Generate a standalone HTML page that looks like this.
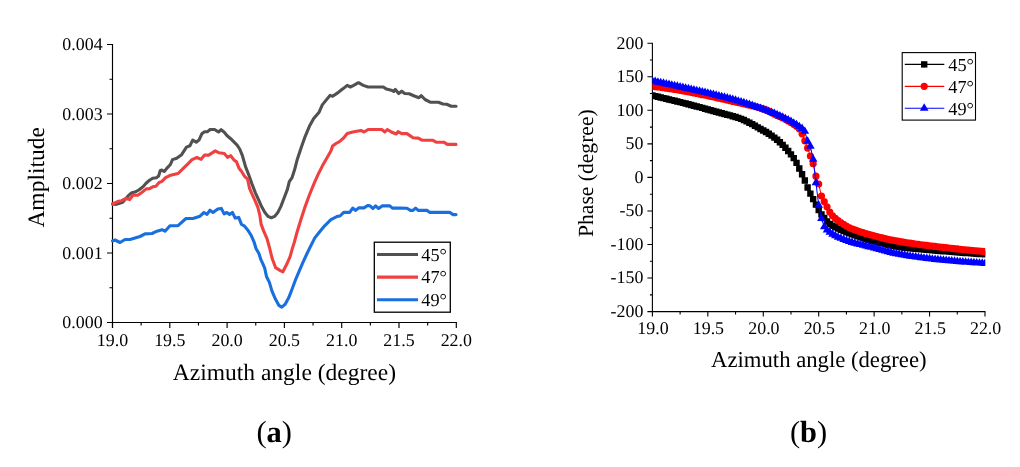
<!DOCTYPE html>
<html><head><meta charset="utf-8"><title>Amplitude and phase vs azimuth angle</title>
<style>
html,body{margin:0;padding:0;background:#fff;}
body{width:1020px;height:467px;overflow:hidden;}
svg{display:block;font-family:"Liberation Serif",serif;text-rendering:geometricPrecision;will-change:transform;}
</style></head>
<body>
<svg width="1020" height="467" viewBox="0 0 1020 467">
<g stroke="#000" stroke-width="1.15" fill="none">
<path d="M112.5,43.9V328.0M107.0,322.5H456.90000000000003"/>
<path d="M107.0,322.50H112.5M107.0,253.00H112.5M107.0,183.50H112.5M107.0,114.00H112.5M107.0,44.50H112.5M109.5,287.75H112.5M109.5,218.25H112.5M109.5,148.75H112.5M109.5,79.25H112.5M112.50,322.5V328.0M169.80,322.5V328.0M227.10,322.5V328.0M284.40,322.5V328.0M341.70,322.5V328.0M399.00,322.5V328.0M456.30,322.5V328.0M141.15,322.5V325.5M198.45,322.5V325.5M255.75,322.5V325.5M313.05,322.5V325.5M370.35,322.5V325.5M427.65,322.5V325.5"/></g>
<g fill="none" stroke-width="3.1" stroke-linejoin="round" stroke-linecap="round">
<path stroke="#515151" d="M112.5,204.0 116.3,204.4 122.7,202.3 128.1,195.9 131.8,192.7 135.0,192.1 138.8,190.0 143.0,186.8 146.3,183.0 149.5,180.3 152.7,178.2 156.4,177.7 158.6,176.1 160.2,170.7 161.4,170.0 164.2,171.4 167.7,167.3 170.4,164.5 172.5,159.6 176.7,158.2 181.6,154.7 186.5,147.1 189.9,145.7 192.7,140.1 196.2,142.2 199.0,140.1 201.8,133.8 204.6,131.7 207.6,131.6 210.1,129.5 214.6,129.5 218.5,132.0 221.1,129.7 224.3,132.3 226.9,135.5 230.7,138.7 233.9,141.9 237.1,145.1 239.7,149.0 242.3,155.4 245.6,166.9 248.9,175.3 252.1,184.3 255.3,192.6 258.5,199.7 261.7,206.8 264.9,212.6 268.1,216.4 271.3,217.7 274.6,216.4 277.8,212.6 281.0,206.1 284.2,197.8 287.4,189.4 289.3,181.7 291.9,177.9 294.5,170.1 297.4,158.9 300.9,148.6 305.1,136.6 309.4,126.3 313.7,118.6 318.9,112.6 322.3,104.9 325.7,100.6 330.0,95.4 332.6,96.3 337.7,92.9 340.0,91.0 343.2,88.6 347.2,85.4 350.4,87.0 353.6,85.4 358.5,82.7 363.3,85.4 368.1,87.0 383.3,87.0 386.5,89.1 391.3,90.2 393.7,91.5 395.3,89.4 398.7,93.5 401.7,91.2 404.7,93.5 409.2,93.8 413.7,95.7 419.0,97.7 421.2,95.7 425.0,99.5 430.2,102.2 438.4,102.2 442.9,104.0 446.7,104.3 451.2,106.2 456.0,106.2"/>
<path stroke="#F14040" d="M112.5,203.9 115.2,202.8 118.4,201.2 121.6,200.7 125.9,198.5 129.7,199.6 132.9,195.3 137.7,195.3 141.4,192.7 146.3,188.9 149.5,188.7 152.7,186.8 155.9,186.2 159.1,182.5 162.0,181.4 165.6,177.7 169.7,175.6 174.6,174.2 178.1,173.5 183.0,168.7 187.9,163.8 192.0,159.6 196.9,157.5 201.1,159.3 204.6,155.1 208.7,155.1 215.3,150.9 219.1,152.8 224.3,153.5 227.5,157.3 230.7,155.7 233.9,159.9 236.5,161.8 239.1,168.3 241.6,171.5 244.8,176.6 247.6,179.1 249.5,188.1 251.4,192.6 254.6,199.7 257.9,207.4 259.8,215.1 261.1,224.1 263.6,230.9 267.0,238.6 269.6,248.0 272.1,258.3 275.6,267.7 279.9,270.3 282.9,271.8 286.7,264.3 290.1,256.6 292.3,248.6 294.4,242.0 296.8,233.0 300.6,220.5 304.5,208.4 309.4,195.0 313.7,184.3 318.0,174.6 322.3,166.1 326.6,158.6 330.9,151.1 332.6,146.0 336.0,143.5 339.4,141.7 343.2,138.4 347.2,133.6 352.8,132.0 360.9,130.4 364.1,132.0 368.1,129.5 381.7,129.5 384.9,132.0 387.3,129.5 391.3,132.0 396.2,134.0 398.0,131.7 401.7,133.6 407.0,133.6 413.0,137.7 418.2,138.1 422.0,140.2 432.4,140.2 436.2,142.2 443.7,142.2 447.4,144.4 456.0,144.4"/>
<path stroke="#1A6FDF" d="M112.5,241.0 115.0,240.0 120.0,242.5 125.0,239.5 130.0,239.5 135.0,238.0 140.0,236.5 145.0,233.9 152.0,233.5 157.0,231.2 162.0,229.7 165.0,231.2 170.0,225.7 178.0,225.7 186.0,218.5 193.0,218.5 200.0,216.2 204.0,212.5 207.0,214.4 210.0,210.2 213.0,212.5 217.8,209.1 221.3,208.4 224.1,213.9 226.8,212.5 229.6,214.6 232.4,212.5 235.2,218.1 238.7,217.4 241.5,224.4 244.2,225.8 247.7,229.9 251.2,235.5 254.0,241.8 256.1,248.7 258.9,253.6 261.0,259.9 263.0,264.1 264.7,268.2 266.5,276.5 269.4,282.4 271.8,290.6 275.3,298.8 278.8,305.3 281.8,307.1 285.3,304.1 288.8,297.6 292.4,288.2 295.9,278.8 299.4,270.6 303.5,261.2 306.8,254.0 309.4,248.6 314.8,237.9 319.1,232.5 324.4,226.1 330.9,219.6 337.3,216.4 340.0,216.0 343.7,212.4 349.7,212.4 352.7,208.1 355.7,210.4 358.7,207.9 364.0,207.9 367.7,205.5 370.0,205.9 373.0,208.5 375.6,205.9 378.6,208.5 382.0,205.9 389.8,205.9 392.4,208.1 400.0,208.1 407.0,208.3 410.4,210.4 413.0,210.4 415.6,208.1 418.2,210.4 427.2,210.4 429.9,212.4 449.7,212.4 453.1,214.6 456.0,214.6"/>
</g>
<g font-size="17.9" fill="#000">
<text x="102.6" y="328.4" text-anchor="end">0.000</text>
<text x="102.6" y="258.9" text-anchor="end">0.001</text>
<text x="102.6" y="189.4" text-anchor="end">0.002</text>
<text x="102.6" y="119.9" text-anchor="end">0.003</text>
<text x="102.6" y="50.4" text-anchor="end">0.004</text>
<text x="112.5" y="346" text-anchor="middle">19.0</text>
<text x="169.8" y="346" text-anchor="middle">19.5</text>
<text x="227.1" y="346" text-anchor="middle">20.0</text>
<text x="284.4" y="346" text-anchor="middle">20.5</text>
<text x="341.7" y="346" text-anchor="middle">21.0</text>
<text x="399.0" y="346" text-anchor="middle">21.5</text>
<text x="456.3" y="346" text-anchor="middle">22.0</text>
</g>
<text font-size="23.5" x="284.4" y="379.7" text-anchor="middle">Azimuth angle (degree)</text>
<text font-size="23.5" transform="translate(43.8,227.6) rotate(-90)">Amplitude</text>
<rect x="374.3" y="242.2" width="76" height="70" fill="#fff" stroke="#000" stroke-width="1.3"/>
<path d="M377,254.5H418" stroke="#515151" stroke-width="3.1"/>
<text font-size="18.3" x="421.3" y="260.6">45°</text>
<path d="M377,277.1H418" stroke="#F14040" stroke-width="3.1"/>
<text font-size="18.3" x="421.3" y="283.2">47°</text>
<path d="M377,299.7H418" stroke="#1A6FDF" stroke-width="3.1"/>
<text font-size="18.3" x="421.3" y="305.8">49°</text>
<g stroke="#000" stroke-width="1.1" fill="none">
<path d="M652.4,42.7V316.6M647.4,311.6H985.5M647.4,43.20H652.4M647.4,76.75H652.4M647.4,110.30H652.4M647.4,143.85H652.4M647.4,177.40H652.4M647.4,210.95H652.4M647.4,244.50H652.4M647.4,278.05H652.4M647.4,311.60H652.4M649.9,59.98H652.4M649.9,93.53H652.4M649.9,127.08H652.4M649.9,160.62H652.4M649.9,194.18H652.4M649.9,227.73H652.4M649.9,261.28H652.4M649.9,294.83H652.4M652.40,311.6V316.6M707.83,311.6V316.6M763.27,311.6V316.6M818.70,311.6V316.6M874.13,311.6V316.6M929.57,311.6V316.6M985.00,311.6V316.6M680.12,311.6V314.6M735.55,311.6V314.6M790.98,311.6V314.6M846.42,311.6V314.6M901.85,311.6V314.6M957.28,311.6V314.6"/></g>
<clipPath id="rc"><rect x="652.4" y="0" width="332.90" height="467"/></clipPath>
<g clip-path="url(#rc)">
<path d="M652.40,95.50 655.17,96.14 657.94,96.79 660.71,97.44 663.49,98.10 666.26,98.77 669.03,99.44 671.80,100.11 674.57,100.79 677.35,101.48 680.12,102.17 682.89,102.87 685.66,103.57 688.43,104.27 691.20,104.98 693.98,105.70 696.75,106.43 699.52,107.17 702.29,107.92 705.06,108.69 707.83,109.47 710.60,110.26 713.38,111.04 716.15,111.82 718.92,112.56 721.69,113.27 724.46,113.98 727.24,114.69 730.01,115.42 732.78,116.20 735.55,117.02 738.32,117.92 741.09,118.91 743.86,120.06 746.64,121.34 749.41,122.70 752.18,124.15 754.95,125.73 757.72,127.37 760.50,128.98 763.27,130.53 766.04,132.07 768.81,133.73 771.58,135.58 774.35,137.61 777.12,139.81 779.90,142.21 782.67,144.85 785.44,147.78 788.21,150.95 790.98,154.33 793.75,158.15 796.53,162.87 799.30,168.47 802.07,174.24 804.84,180.45 807.61,187.55 810.39,193.63 813.16,199.12 815.93,204.65 818.70,210.03 821.47,214.34 824.24,218.06 827.01,221.43 829.79,223.94 832.56,225.77 835.33,227.28 838.10,228.61 840.87,229.90 843.65,231.11 846.42,232.23 849.19,233.29 851.96,234.33 854.73,235.36 857.50,236.37 860.27,237.35 863.05,238.29 865.82,239.18 868.59,240.01 871.36,240.77 874.13,241.52 876.90,242.25 879.68,242.97 882.45,243.66 885.22,244.32 887.99,244.94 890.76,245.52 893.54,246.06 896.31,246.54 899.08,246.97 901.85,247.35 904.62,247.69 907.39,248.02 910.16,248.32 912.94,248.60 915.71,248.87 918.48,249.12 921.25,249.37 924.02,249.60 926.80,249.83 929.57,250.05 932.34,250.27 935.11,250.50 937.88,250.72 940.65,250.96 943.42,251.19 946.20,251.42 948.97,251.64 951.74,251.87 954.51,252.09 957.28,252.31 960.05,252.52 962.83,252.73 965.60,252.94 968.37,253.15 971.14,253.35 973.91,253.55 976.69,253.74 979.46,253.93 982.23,254.12 985.00,254.30" stroke="#000" stroke-width="1" fill="none"/>
<path d="M649.20,92.30h6.4v6.4h-6.4zM651.97,92.94h6.4v6.4h-6.4zM654.74,93.59h6.4v6.4h-6.4zM657.51,94.24h6.4v6.4h-6.4zM660.29,94.90h6.4v6.4h-6.4zM663.06,95.57h6.4v6.4h-6.4zM665.83,96.24h6.4v6.4h-6.4zM668.60,96.91h6.4v6.4h-6.4zM671.37,97.59h6.4v6.4h-6.4zM674.15,98.28h6.4v6.4h-6.4zM676.92,98.97h6.4v6.4h-6.4zM679.69,99.67h6.4v6.4h-6.4zM682.46,100.37h6.4v6.4h-6.4zM685.23,101.07h6.4v6.4h-6.4zM688.00,101.78h6.4v6.4h-6.4zM690.77,102.50h6.4v6.4h-6.4zM693.55,103.23h6.4v6.4h-6.4zM696.32,103.97h6.4v6.4h-6.4zM699.09,104.72h6.4v6.4h-6.4zM701.86,105.49h6.4v6.4h-6.4zM704.63,106.27h6.4v6.4h-6.4zM707.40,107.06h6.4v6.4h-6.4zM710.18,107.84h6.4v6.4h-6.4zM712.95,108.62h6.4v6.4h-6.4zM715.72,109.36h6.4v6.4h-6.4zM718.49,110.07h6.4v6.4h-6.4zM721.26,110.78h6.4v6.4h-6.4zM724.03,111.49h6.4v6.4h-6.4zM726.81,112.22h6.4v6.4h-6.4zM729.58,113.00h6.4v6.4h-6.4zM732.35,113.82h6.4v6.4h-6.4zM735.12,114.72h6.4v6.4h-6.4zM737.89,115.71h6.4v6.4h-6.4zM740.66,116.86h6.4v6.4h-6.4zM743.44,118.14h6.4v6.4h-6.4zM746.21,119.50h6.4v6.4h-6.4zM748.98,120.95h6.4v6.4h-6.4zM751.75,122.53h6.4v6.4h-6.4zM754.52,124.17h6.4v6.4h-6.4zM757.30,125.78h6.4v6.4h-6.4zM760.07,127.33h6.4v6.4h-6.4zM762.84,128.87h6.4v6.4h-6.4zM765.61,130.53h6.4v6.4h-6.4zM768.38,132.38h6.4v6.4h-6.4zM771.15,134.41h6.4v6.4h-6.4zM773.92,136.61h6.4v6.4h-6.4zM776.70,139.01h6.4v6.4h-6.4zM779.47,141.65h6.4v6.4h-6.4zM782.24,144.58h6.4v6.4h-6.4zM785.01,147.75h6.4v6.4h-6.4zM787.78,151.13h6.4v6.4h-6.4zM790.55,154.95h6.4v6.4h-6.4zM793.33,159.67h6.4v6.4h-6.4zM796.10,165.27h6.4v6.4h-6.4zM798.87,171.04h6.4v6.4h-6.4zM801.64,177.25h6.4v6.4h-6.4zM804.41,184.35h6.4v6.4h-6.4zM807.19,190.43h6.4v6.4h-6.4zM809.96,195.92h6.4v6.4h-6.4zM812.73,201.45h6.4v6.4h-6.4zM815.50,206.83h6.4v6.4h-6.4zM818.27,211.14h6.4v6.4h-6.4zM821.04,214.86h6.4v6.4h-6.4zM823.81,218.23h6.4v6.4h-6.4zM826.59,220.74h6.4v6.4h-6.4zM829.36,222.57h6.4v6.4h-6.4zM832.13,224.08h6.4v6.4h-6.4zM834.90,225.41h6.4v6.4h-6.4zM837.67,226.70h6.4v6.4h-6.4zM840.45,227.91h6.4v6.4h-6.4zM843.22,229.03h6.4v6.4h-6.4zM845.99,230.09h6.4v6.4h-6.4zM848.76,231.13h6.4v6.4h-6.4zM851.53,232.16h6.4v6.4h-6.4zM854.30,233.17h6.4v6.4h-6.4zM857.07,234.15h6.4v6.4h-6.4zM859.85,235.09h6.4v6.4h-6.4zM862.62,235.98h6.4v6.4h-6.4zM865.39,236.81h6.4v6.4h-6.4zM868.16,237.57h6.4v6.4h-6.4zM870.93,238.32h6.4v6.4h-6.4zM873.70,239.05h6.4v6.4h-6.4zM876.48,239.77h6.4v6.4h-6.4zM879.25,240.46h6.4v6.4h-6.4zM882.02,241.12h6.4v6.4h-6.4zM884.79,241.74h6.4v6.4h-6.4zM887.56,242.32h6.4v6.4h-6.4zM890.34,242.86h6.4v6.4h-6.4zM893.11,243.34h6.4v6.4h-6.4zM895.88,243.77h6.4v6.4h-6.4zM898.65,244.15h6.4v6.4h-6.4zM901.42,244.49h6.4v6.4h-6.4zM904.19,244.82h6.4v6.4h-6.4zM906.96,245.12h6.4v6.4h-6.4zM909.74,245.40h6.4v6.4h-6.4zM912.51,245.67h6.4v6.4h-6.4zM915.28,245.92h6.4v6.4h-6.4zM918.05,246.17h6.4v6.4h-6.4zM920.82,246.40h6.4v6.4h-6.4zM923.60,246.63h6.4v6.4h-6.4zM926.37,246.85h6.4v6.4h-6.4zM929.14,247.07h6.4v6.4h-6.4zM931.91,247.30h6.4v6.4h-6.4zM934.68,247.52h6.4v6.4h-6.4zM937.45,247.76h6.4v6.4h-6.4zM940.22,247.99h6.4v6.4h-6.4zM943.00,248.22h6.4v6.4h-6.4zM945.77,248.44h6.4v6.4h-6.4zM948.54,248.67h6.4v6.4h-6.4zM951.31,248.89h6.4v6.4h-6.4zM954.08,249.11h6.4v6.4h-6.4zM956.85,249.32h6.4v6.4h-6.4zM959.63,249.53h6.4v6.4h-6.4zM962.40,249.74h6.4v6.4h-6.4zM965.17,249.95h6.4v6.4h-6.4zM967.94,250.15h6.4v6.4h-6.4zM970.71,250.35h6.4v6.4h-6.4zM973.49,250.54h6.4v6.4h-6.4zM976.26,250.73h6.4v6.4h-6.4zM979.03,250.92h6.4v6.4h-6.4zM981.80,251.10h6.4v6.4h-6.4z" fill="#000"/>
<path d="M652.40,86.30 655.17,86.64 657.94,86.99 660.71,87.36 663.49,87.74 666.26,88.14 669.03,88.55 671.80,88.97 674.57,89.41 677.35,89.86 680.12,90.32 682.89,90.80 685.66,91.30 688.43,91.82 691.20,92.37 693.98,92.92 696.75,93.49 699.52,94.07 702.29,94.66 705.06,95.25 707.83,95.84 710.60,96.43 713.38,97.02 716.15,97.62 718.92,98.23 721.69,98.85 724.46,99.47 727.24,100.10 730.01,100.74 732.78,101.39 735.55,102.04 738.32,102.70 741.09,103.36 743.86,104.00 746.64,104.62 749.41,105.23 752.18,105.87 754.95,106.54 757.72,107.25 760.50,108.04 763.27,108.91 766.04,109.90 768.81,111.21 771.58,112.71 774.35,114.18 777.12,115.48 779.90,116.70 782.67,117.95 785.44,119.33 788.21,120.92 790.98,122.59 793.75,124.33 796.53,126.28 799.30,128.67 802.07,133.82 804.84,140.80 807.61,148.08 810.39,156.02 813.16,163.77 815.93,176.14 818.70,184.02 821.47,196.00 824.24,201.53 827.01,206.85 829.79,212.10 832.56,215.81 835.33,218.46 838.10,220.64 840.87,222.61 843.65,224.45 846.42,226.10 849.19,227.53 851.96,228.74 854.73,229.85 857.50,230.87 860.27,231.81 863.05,232.68 865.82,233.51 868.59,234.31 871.36,235.08 874.13,235.83 876.90,236.56 879.68,237.26 882.45,237.94 885.22,238.60 887.99,239.23 890.76,239.83 893.54,240.40 896.31,240.93 899.08,241.44 901.85,241.91 904.62,242.37 907.39,242.80 910.16,243.22 912.94,243.62 915.71,244.00 918.48,244.37 921.25,244.73 924.02,245.08 926.80,245.43 929.57,245.76 932.34,246.09 935.11,246.42 937.88,246.75 940.65,247.08 943.42,247.40 946.20,247.72 948.97,248.04 951.74,248.35 954.51,248.66 957.28,248.96 960.05,249.26 962.83,249.55 965.60,249.84 968.37,250.12 971.14,250.40 973.91,250.67 976.69,250.94 979.46,251.20 982.23,251.45 985.00,251.70" stroke="#f00" stroke-width="1" fill="none"/>
<path d="M648.80,86.30a3.6,3.6 0 1,0 7.2,0a3.6,3.6 0 1,0 -7.2,0zM651.57,86.64a3.6,3.6 0 1,0 7.2,0a3.6,3.6 0 1,0 -7.2,0zM654.34,86.99a3.6,3.6 0 1,0 7.2,0a3.6,3.6 0 1,0 -7.2,0zM657.11,87.36a3.6,3.6 0 1,0 7.2,0a3.6,3.6 0 1,0 -7.2,0zM659.89,87.74a3.6,3.6 0 1,0 7.2,0a3.6,3.6 0 1,0 -7.2,0zM662.66,88.14a3.6,3.6 0 1,0 7.2,0a3.6,3.6 0 1,0 -7.2,0zM665.43,88.55a3.6,3.6 0 1,0 7.2,0a3.6,3.6 0 1,0 -7.2,0zM668.20,88.97a3.6,3.6 0 1,0 7.2,0a3.6,3.6 0 1,0 -7.2,0zM670.97,89.41a3.6,3.6 0 1,0 7.2,0a3.6,3.6 0 1,0 -7.2,0zM673.75,89.86a3.6,3.6 0 1,0 7.2,0a3.6,3.6 0 1,0 -7.2,0zM676.52,90.32a3.6,3.6 0 1,0 7.2,0a3.6,3.6 0 1,0 -7.2,0zM679.29,90.80a3.6,3.6 0 1,0 7.2,0a3.6,3.6 0 1,0 -7.2,0zM682.06,91.30a3.6,3.6 0 1,0 7.2,0a3.6,3.6 0 1,0 -7.2,0zM684.83,91.82a3.6,3.6 0 1,0 7.2,0a3.6,3.6 0 1,0 -7.2,0zM687.60,92.37a3.6,3.6 0 1,0 7.2,0a3.6,3.6 0 1,0 -7.2,0zM690.38,92.92a3.6,3.6 0 1,0 7.2,0a3.6,3.6 0 1,0 -7.2,0zM693.15,93.49a3.6,3.6 0 1,0 7.2,0a3.6,3.6 0 1,0 -7.2,0zM695.92,94.07a3.6,3.6 0 1,0 7.2,0a3.6,3.6 0 1,0 -7.2,0zM698.69,94.66a3.6,3.6 0 1,0 7.2,0a3.6,3.6 0 1,0 -7.2,0zM701.46,95.25a3.6,3.6 0 1,0 7.2,0a3.6,3.6 0 1,0 -7.2,0zM704.23,95.84a3.6,3.6 0 1,0 7.2,0a3.6,3.6 0 1,0 -7.2,0zM707.00,96.43a3.6,3.6 0 1,0 7.2,0a3.6,3.6 0 1,0 -7.2,0zM709.78,97.02a3.6,3.6 0 1,0 7.2,0a3.6,3.6 0 1,0 -7.2,0zM712.55,97.62a3.6,3.6 0 1,0 7.2,0a3.6,3.6 0 1,0 -7.2,0zM715.32,98.23a3.6,3.6 0 1,0 7.2,0a3.6,3.6 0 1,0 -7.2,0zM718.09,98.85a3.6,3.6 0 1,0 7.2,0a3.6,3.6 0 1,0 -7.2,0zM720.86,99.47a3.6,3.6 0 1,0 7.2,0a3.6,3.6 0 1,0 -7.2,0zM723.63,100.10a3.6,3.6 0 1,0 7.2,0a3.6,3.6 0 1,0 -7.2,0zM726.41,100.74a3.6,3.6 0 1,0 7.2,0a3.6,3.6 0 1,0 -7.2,0zM729.18,101.39a3.6,3.6 0 1,0 7.2,0a3.6,3.6 0 1,0 -7.2,0zM731.95,102.04a3.6,3.6 0 1,0 7.2,0a3.6,3.6 0 1,0 -7.2,0zM734.72,102.70a3.6,3.6 0 1,0 7.2,0a3.6,3.6 0 1,0 -7.2,0zM737.49,103.36a3.6,3.6 0 1,0 7.2,0a3.6,3.6 0 1,0 -7.2,0zM740.26,104.00a3.6,3.6 0 1,0 7.2,0a3.6,3.6 0 1,0 -7.2,0zM743.04,104.62a3.6,3.6 0 1,0 7.2,0a3.6,3.6 0 1,0 -7.2,0zM745.81,105.23a3.6,3.6 0 1,0 7.2,0a3.6,3.6 0 1,0 -7.2,0zM748.58,105.87a3.6,3.6 0 1,0 7.2,0a3.6,3.6 0 1,0 -7.2,0zM751.35,106.54a3.6,3.6 0 1,0 7.2,0a3.6,3.6 0 1,0 -7.2,0zM754.12,107.25a3.6,3.6 0 1,0 7.2,0a3.6,3.6 0 1,0 -7.2,0zM756.90,108.04a3.6,3.6 0 1,0 7.2,0a3.6,3.6 0 1,0 -7.2,0zM759.67,108.91a3.6,3.6 0 1,0 7.2,0a3.6,3.6 0 1,0 -7.2,0zM762.44,109.90a3.6,3.6 0 1,0 7.2,0a3.6,3.6 0 1,0 -7.2,0zM765.21,111.21a3.6,3.6 0 1,0 7.2,0a3.6,3.6 0 1,0 -7.2,0zM767.98,112.71a3.6,3.6 0 1,0 7.2,0a3.6,3.6 0 1,0 -7.2,0zM770.75,114.18a3.6,3.6 0 1,0 7.2,0a3.6,3.6 0 1,0 -7.2,0zM773.52,115.48a3.6,3.6 0 1,0 7.2,0a3.6,3.6 0 1,0 -7.2,0zM776.30,116.70a3.6,3.6 0 1,0 7.2,0a3.6,3.6 0 1,0 -7.2,0zM779.07,117.95a3.6,3.6 0 1,0 7.2,0a3.6,3.6 0 1,0 -7.2,0zM781.84,119.33a3.6,3.6 0 1,0 7.2,0a3.6,3.6 0 1,0 -7.2,0zM784.61,120.92a3.6,3.6 0 1,0 7.2,0a3.6,3.6 0 1,0 -7.2,0zM787.38,122.59a3.6,3.6 0 1,0 7.2,0a3.6,3.6 0 1,0 -7.2,0zM790.15,124.33a3.6,3.6 0 1,0 7.2,0a3.6,3.6 0 1,0 -7.2,0zM792.93,126.28a3.6,3.6 0 1,0 7.2,0a3.6,3.6 0 1,0 -7.2,0zM795.70,128.67a3.6,3.6 0 1,0 7.2,0a3.6,3.6 0 1,0 -7.2,0zM798.47,133.82a3.6,3.6 0 1,0 7.2,0a3.6,3.6 0 1,0 -7.2,0zM801.24,140.80a3.6,3.6 0 1,0 7.2,0a3.6,3.6 0 1,0 -7.2,0zM804.01,148.08a3.6,3.6 0 1,0 7.2,0a3.6,3.6 0 1,0 -7.2,0zM806.79,156.02a3.6,3.6 0 1,0 7.2,0a3.6,3.6 0 1,0 -7.2,0zM809.56,163.77a3.6,3.6 0 1,0 7.2,0a3.6,3.6 0 1,0 -7.2,0zM812.33,176.14a3.6,3.6 0 1,0 7.2,0a3.6,3.6 0 1,0 -7.2,0zM815.10,184.02a3.6,3.6 0 1,0 7.2,0a3.6,3.6 0 1,0 -7.2,0zM817.87,196.00a3.6,3.6 0 1,0 7.2,0a3.6,3.6 0 1,0 -7.2,0zM820.64,201.53a3.6,3.6 0 1,0 7.2,0a3.6,3.6 0 1,0 -7.2,0zM823.41,206.85a3.6,3.6 0 1,0 7.2,0a3.6,3.6 0 1,0 -7.2,0zM826.19,212.10a3.6,3.6 0 1,0 7.2,0a3.6,3.6 0 1,0 -7.2,0zM828.96,215.81a3.6,3.6 0 1,0 7.2,0a3.6,3.6 0 1,0 -7.2,0zM831.73,218.46a3.6,3.6 0 1,0 7.2,0a3.6,3.6 0 1,0 -7.2,0zM834.50,220.64a3.6,3.6 0 1,0 7.2,0a3.6,3.6 0 1,0 -7.2,0zM837.27,222.61a3.6,3.6 0 1,0 7.2,0a3.6,3.6 0 1,0 -7.2,0zM840.05,224.45a3.6,3.6 0 1,0 7.2,0a3.6,3.6 0 1,0 -7.2,0zM842.82,226.10a3.6,3.6 0 1,0 7.2,0a3.6,3.6 0 1,0 -7.2,0zM845.59,227.53a3.6,3.6 0 1,0 7.2,0a3.6,3.6 0 1,0 -7.2,0zM848.36,228.74a3.6,3.6 0 1,0 7.2,0a3.6,3.6 0 1,0 -7.2,0zM851.13,229.85a3.6,3.6 0 1,0 7.2,0a3.6,3.6 0 1,0 -7.2,0zM853.90,230.87a3.6,3.6 0 1,0 7.2,0a3.6,3.6 0 1,0 -7.2,0zM856.67,231.81a3.6,3.6 0 1,0 7.2,0a3.6,3.6 0 1,0 -7.2,0zM859.45,232.68a3.6,3.6 0 1,0 7.2,0a3.6,3.6 0 1,0 -7.2,0zM862.22,233.51a3.6,3.6 0 1,0 7.2,0a3.6,3.6 0 1,0 -7.2,0zM864.99,234.31a3.6,3.6 0 1,0 7.2,0a3.6,3.6 0 1,0 -7.2,0zM867.76,235.08a3.6,3.6 0 1,0 7.2,0a3.6,3.6 0 1,0 -7.2,0zM870.53,235.83a3.6,3.6 0 1,0 7.2,0a3.6,3.6 0 1,0 -7.2,0zM873.30,236.56a3.6,3.6 0 1,0 7.2,0a3.6,3.6 0 1,0 -7.2,0zM876.08,237.26a3.6,3.6 0 1,0 7.2,0a3.6,3.6 0 1,0 -7.2,0zM878.85,237.94a3.6,3.6 0 1,0 7.2,0a3.6,3.6 0 1,0 -7.2,0zM881.62,238.60a3.6,3.6 0 1,0 7.2,0a3.6,3.6 0 1,0 -7.2,0zM884.39,239.23a3.6,3.6 0 1,0 7.2,0a3.6,3.6 0 1,0 -7.2,0zM887.16,239.83a3.6,3.6 0 1,0 7.2,0a3.6,3.6 0 1,0 -7.2,0zM889.94,240.40a3.6,3.6 0 1,0 7.2,0a3.6,3.6 0 1,0 -7.2,0zM892.71,240.93a3.6,3.6 0 1,0 7.2,0a3.6,3.6 0 1,0 -7.2,0zM895.48,241.44a3.6,3.6 0 1,0 7.2,0a3.6,3.6 0 1,0 -7.2,0zM898.25,241.91a3.6,3.6 0 1,0 7.2,0a3.6,3.6 0 1,0 -7.2,0zM901.02,242.37a3.6,3.6 0 1,0 7.2,0a3.6,3.6 0 1,0 -7.2,0zM903.79,242.80a3.6,3.6 0 1,0 7.2,0a3.6,3.6 0 1,0 -7.2,0zM906.56,243.22a3.6,3.6 0 1,0 7.2,0a3.6,3.6 0 1,0 -7.2,0zM909.34,243.62a3.6,3.6 0 1,0 7.2,0a3.6,3.6 0 1,0 -7.2,0zM912.11,244.00a3.6,3.6 0 1,0 7.2,0a3.6,3.6 0 1,0 -7.2,0zM914.88,244.37a3.6,3.6 0 1,0 7.2,0a3.6,3.6 0 1,0 -7.2,0zM917.65,244.73a3.6,3.6 0 1,0 7.2,0a3.6,3.6 0 1,0 -7.2,0zM920.42,245.08a3.6,3.6 0 1,0 7.2,0a3.6,3.6 0 1,0 -7.2,0zM923.20,245.43a3.6,3.6 0 1,0 7.2,0a3.6,3.6 0 1,0 -7.2,0zM925.97,245.76a3.6,3.6 0 1,0 7.2,0a3.6,3.6 0 1,0 -7.2,0zM928.74,246.09a3.6,3.6 0 1,0 7.2,0a3.6,3.6 0 1,0 -7.2,0zM931.51,246.42a3.6,3.6 0 1,0 7.2,0a3.6,3.6 0 1,0 -7.2,0zM934.28,246.75a3.6,3.6 0 1,0 7.2,0a3.6,3.6 0 1,0 -7.2,0zM937.05,247.08a3.6,3.6 0 1,0 7.2,0a3.6,3.6 0 1,0 -7.2,0zM939.82,247.40a3.6,3.6 0 1,0 7.2,0a3.6,3.6 0 1,0 -7.2,0zM942.60,247.72a3.6,3.6 0 1,0 7.2,0a3.6,3.6 0 1,0 -7.2,0zM945.37,248.04a3.6,3.6 0 1,0 7.2,0a3.6,3.6 0 1,0 -7.2,0zM948.14,248.35a3.6,3.6 0 1,0 7.2,0a3.6,3.6 0 1,0 -7.2,0zM950.91,248.66a3.6,3.6 0 1,0 7.2,0a3.6,3.6 0 1,0 -7.2,0zM953.68,248.96a3.6,3.6 0 1,0 7.2,0a3.6,3.6 0 1,0 -7.2,0zM956.45,249.26a3.6,3.6 0 1,0 7.2,0a3.6,3.6 0 1,0 -7.2,0zM959.23,249.55a3.6,3.6 0 1,0 7.2,0a3.6,3.6 0 1,0 -7.2,0zM962.00,249.84a3.6,3.6 0 1,0 7.2,0a3.6,3.6 0 1,0 -7.2,0zM964.77,250.12a3.6,3.6 0 1,0 7.2,0a3.6,3.6 0 1,0 -7.2,0zM967.54,250.40a3.6,3.6 0 1,0 7.2,0a3.6,3.6 0 1,0 -7.2,0zM970.31,250.67a3.6,3.6 0 1,0 7.2,0a3.6,3.6 0 1,0 -7.2,0zM973.09,250.94a3.6,3.6 0 1,0 7.2,0a3.6,3.6 0 1,0 -7.2,0zM975.86,251.20a3.6,3.6 0 1,0 7.2,0a3.6,3.6 0 1,0 -7.2,0zM978.63,251.45a3.6,3.6 0 1,0 7.2,0a3.6,3.6 0 1,0 -7.2,0zM981.40,251.70a3.6,3.6 0 1,0 7.2,0a3.6,3.6 0 1,0 -7.2,0z" fill="#f00"/>
<path d="M652.40,81.00 655.17,81.58 657.94,82.16 660.71,82.74 663.49,83.33 666.26,83.92 669.03,84.51 671.80,85.11 674.57,85.71 677.35,86.32 680.12,86.93 682.89,87.53 685.66,88.14 688.43,88.75 691.20,89.37 693.98,89.98 696.75,90.60 699.52,91.23 702.29,91.87 705.06,92.52 707.83,93.18 710.60,93.85 713.38,94.53 716.15,95.21 718.92,95.90 721.69,96.60 724.46,97.31 727.24,98.04 730.01,98.78 732.78,99.53 735.55,100.31 738.32,101.11 741.09,101.93 743.86,102.78 746.64,103.66 749.41,104.56 752.18,105.49 754.95,106.44 757.72,107.41 760.50,108.39 763.27,109.38 766.04,110.37 768.81,111.39 771.58,112.43 774.35,113.53 777.12,114.71 779.90,115.95 782.67,117.25 785.44,118.62 788.21,120.06 790.98,121.58 793.75,123.16 796.53,124.81 799.30,126.59 802.07,128.52 804.84,131.36 807.61,141.32 810.39,146.19 813.16,159.34 815.93,182.69 818.70,205.17 821.47,218.59 824.24,226.82 827.01,230.13 829.79,232.34 832.56,234.26 835.33,235.81 838.10,237.14 840.87,238.39 843.65,239.54 846.42,240.59 849.19,241.54 851.96,242.40 854.73,243.19 857.50,243.92 860.27,244.62 863.05,245.29 865.82,245.96 868.59,246.64 871.36,247.35 874.13,248.08 876.90,248.84 879.68,249.59 882.45,250.35 885.22,251.10 887.99,251.82 890.76,252.52 893.54,253.18 896.31,253.78 899.08,254.33 901.85,254.82 904.62,255.30 907.39,255.75 910.16,256.18 912.94,256.60 915.71,257.00 918.48,257.39 921.25,257.76 924.02,258.11 926.80,258.45 929.57,258.78 932.34,259.10 935.11,259.40 937.88,259.69 940.65,259.96 943.42,260.24 946.20,260.50 948.97,260.76 951.74,261.02 954.51,261.27 957.28,261.51 960.05,261.74 962.83,261.97 965.60,262.18 968.37,262.39 971.14,262.59 973.91,262.77 976.69,262.95 979.46,263.11 982.23,263.26 985.00,263.40" stroke="#00f" stroke-width="1" fill="none"/>
<path d="M652.40,76.03L656.70,83.48L648.10,83.48zM655.17,76.61L659.47,84.06L650.87,84.06zM657.94,77.19L662.24,84.64L653.64,84.64zM660.71,77.78L665.01,85.22L656.41,85.22zM663.49,78.36L667.79,85.81L659.19,85.81zM666.26,78.95L670.56,86.40L661.96,86.40zM669.03,79.55L673.33,87.00L664.73,87.00zM671.80,80.15L676.10,87.59L667.50,87.59zM674.57,80.75L678.87,88.20L670.27,88.20zM677.35,81.35L681.65,88.80L673.05,88.80zM680.12,81.96L684.42,89.41L675.82,89.41zM682.89,82.57L687.19,90.02L678.59,90.02zM685.66,83.18L689.96,90.63L681.36,90.63zM688.43,83.79L692.73,91.24L684.13,91.24zM691.20,84.40L695.50,91.85L686.90,91.85zM693.98,85.02L698.27,92.46L689.68,92.46zM696.75,85.64L701.05,93.09L692.45,93.09zM699.52,86.27L703.82,93.72L695.22,93.72zM702.29,86.91L706.59,94.35L697.99,94.35zM705.06,87.55L709.36,95.00L700.76,95.00zM707.83,88.21L712.13,95.66L703.53,95.66zM710.60,88.88L714.90,96.33L706.30,96.33zM713.38,89.56L717.68,97.01L709.08,97.01zM716.15,90.24L720.45,97.69L711.85,97.69zM718.92,90.94L723.22,98.38L714.62,98.38zM721.69,91.64L725.99,99.08L717.39,99.08zM724.46,92.35L728.76,99.80L720.16,99.80zM727.24,93.07L731.53,100.52L722.94,100.52zM730.01,93.81L734.31,101.26L725.71,101.26zM732.78,94.57L737.08,102.02L728.48,102.02zM735.55,95.35L739.85,102.79L731.25,102.79zM738.32,96.14L742.62,103.59L734.02,103.59zM741.09,96.96L745.39,104.41L736.79,104.41zM743.86,97.81L748.16,105.26L739.56,105.26zM746.64,98.69L750.94,106.14L742.34,106.14zM749.41,99.60L753.71,107.05L745.11,107.05zM752.18,100.53L756.48,107.98L747.88,107.98zM754.95,101.48L759.25,108.92L750.65,108.92zM757.72,102.44L762.02,109.89L753.42,109.89zM760.50,103.42L764.80,110.87L756.20,110.87zM763.27,104.41L767.57,111.86L758.97,111.86zM766.04,105.41L770.34,112.86L761.74,112.86zM768.81,106.42L773.11,113.87L764.51,113.87zM771.58,107.47L775.88,114.91L767.28,114.91zM774.35,108.57L778.65,116.02L770.05,116.02zM777.12,109.74L781.42,117.19L772.83,117.19zM779.90,110.98L784.20,118.43L775.60,118.43zM782.67,112.29L786.97,119.74L778.37,119.74zM785.44,113.66L789.74,121.10L781.14,121.10zM788.21,115.10L792.51,122.54L783.91,122.54zM790.98,116.61L795.28,124.06L786.68,124.06zM793.75,118.20L798.05,125.65L789.45,125.65zM796.53,119.85L800.83,127.29L792.23,127.29zM799.30,121.63L803.60,129.07L795.00,129.07zM802.07,123.55L806.37,131.00L797.77,131.00zM804.84,126.39L809.14,133.84L800.54,133.84zM807.61,136.35L811.91,143.80L803.31,143.80zM810.39,141.23L814.69,148.67L806.09,148.67zM813.16,154.37L817.46,161.82L808.86,161.82zM815.93,177.73L820.23,185.17L811.63,185.17zM818.70,200.20L823.00,207.65L814.40,207.65zM821.47,213.62L825.77,221.07L817.17,221.07zM824.24,221.85L828.54,229.30L819.94,229.30zM827.01,225.17L831.31,232.62L822.71,232.62zM829.79,227.37L834.09,234.82L825.49,234.82zM832.56,229.29L836.86,236.74L828.26,236.74zM835.33,230.85L839.63,238.29L831.03,238.29zM838.10,232.18L842.40,239.63L833.80,239.63zM840.87,233.42L845.17,240.87L836.57,240.87zM843.65,234.58L847.95,242.02L839.35,242.02zM846.42,235.63L850.72,243.07L842.12,243.07zM849.19,236.58L853.49,244.02L844.89,244.02zM851.96,237.43L856.26,244.88L847.66,244.88zM854.73,238.22L859.03,245.67L850.43,245.67zM857.50,238.96L861.80,246.40L853.20,246.40zM860.27,239.65L864.57,247.10L855.98,247.10zM863.05,240.33L867.35,247.78L858.75,247.78zM865.82,241.00L870.12,248.45L861.52,248.45zM868.59,241.68L872.89,249.13L864.29,249.13zM871.36,242.39L875.66,249.83L867.06,249.83zM874.13,243.12L878.43,250.57L869.83,250.57zM876.90,243.87L881.20,251.32L872.60,251.32zM879.68,244.63L883.98,252.08L875.38,252.08zM882.45,245.39L886.75,252.83L878.15,252.83zM885.22,246.13L889.52,253.58L880.92,253.58zM887.99,246.86L892.29,254.31L883.69,254.31zM890.76,247.56L895.06,255.00L886.46,255.00zM893.54,248.21L897.84,255.66L889.24,255.66zM896.31,248.82L900.61,256.27L892.01,256.27zM899.08,249.37L903.38,256.81L894.78,256.81zM901.85,249.86L906.15,257.31L897.55,257.31zM904.62,250.33L908.92,257.78L900.32,257.78zM907.39,250.78L911.69,258.23L903.09,258.23zM910.16,251.22L914.46,258.67L905.87,258.67zM912.94,251.64L917.24,259.08L908.64,259.08zM915.71,252.04L920.01,259.49L911.41,259.49zM918.48,252.42L922.78,259.87L914.18,259.87zM921.25,252.79L925.55,260.24L916.95,260.24zM924.02,253.15L928.32,260.60L919.72,260.60zM926.80,253.49L931.10,260.94L922.50,260.94zM929.57,253.82L933.87,261.26L925.27,261.26zM932.34,254.13L936.64,261.58L928.04,261.58zM935.11,254.43L939.41,261.88L930.81,261.88zM937.88,254.72L942.18,262.17L933.58,262.17zM940.65,255.00L944.95,262.45L936.35,262.45zM943.42,255.27L947.72,262.72L939.12,262.72zM946.20,255.54L950.50,262.99L941.90,262.99zM948.97,255.80L953.27,263.25L944.67,263.25zM951.74,256.05L956.04,263.50L947.44,263.50zM954.51,256.30L958.81,263.75L950.21,263.75zM957.28,256.54L961.58,263.99L952.98,263.99zM960.05,256.78L964.35,264.22L955.75,264.22zM962.83,257.00L967.13,264.45L958.53,264.45zM965.60,257.22L969.90,264.67L961.30,264.67zM968.37,257.42L972.67,264.87L964.07,264.87zM971.14,257.62L975.44,265.07L966.84,265.07zM973.91,257.81L978.21,265.26L969.61,265.26zM976.69,257.98L980.99,265.43L972.39,265.43zM979.46,258.15L983.76,265.59L975.16,265.59zM982.23,258.30L986.53,265.74L977.93,265.74zM985.00,258.43L989.30,265.88L980.70,265.88z" fill="#00f"/>
</g>
<g font-size="17.9" fill="#000">
<text x="643.4" y="48.6" text-anchor="end">200</text>
<text x="643.4" y="82.2" text-anchor="end">150</text>
<text x="643.4" y="115.7" text-anchor="end">100</text>
<text x="643.4" y="149.3" text-anchor="end">50</text>
<text x="643.4" y="182.8" text-anchor="end">0</text>
<text x="643.4" y="216.4" text-anchor="end">-50</text>
<text x="643.4" y="249.9" text-anchor="end">-100</text>
<text x="643.4" y="283.4" text-anchor="end">-150</text>
<text x="643.4" y="317.0" text-anchor="end">-200</text>
<text x="653.0" y="334.1" text-anchor="middle">19.0</text>
<text x="708.4" y="334.1" text-anchor="middle">19.5</text>
<text x="763.9" y="334.1" text-anchor="middle">20.0</text>
<text x="819.3" y="334.1" text-anchor="middle">20.5</text>
<text x="874.7" y="334.1" text-anchor="middle">21.0</text>
<text x="930.2" y="334.1" text-anchor="middle">21.5</text>
<text x="985.6" y="334.1" text-anchor="middle">22.0</text>
</g>
<text font-size="22.7" x="818.8" y="367.3" text-anchor="middle">Azimuth angle (degree)</text>
<text font-size="21.6" transform="translate(593.1,237) rotate(-90)">Phase (degree)</text>
<rect x="902.2" y="52.6" width="73.3" height="67.5" fill="#fff" stroke="#000" stroke-width="1.1"/>
<path d="M904.8,64.4H944.3" stroke="#000" stroke-width="1.1"/>
<path d="M921.00,61.20h6.4v6.4h-6.4z" fill="#000"/>
<text font-size="18.3" x="948.3" y="70.6">45°</text>
<path d="M904.8,86.4H944.3" stroke="#f00" stroke-width="1.1"/>
<path d="M920.60,86.35a3.6,3.6 0 1,0 7.2,0a3.6,3.6 0 1,0 -7.2,0z" fill="#f00"/>
<text font-size="18.3" x="948.3" y="92.6">47°</text>
<path d="M904.8,108.3H944.3" stroke="#00f" stroke-width="1.1"/>
<path d="M924.20,103.33L928.50,110.78L919.90,110.78z" fill="#00f"/>
<text font-size="18.3" x="948.3" y="114.5">49°</text>
<text font-size="30.5" x="256.4" y="442.2">(<tspan font-weight="bold">a</tspan>)</text>
<text font-size="30.5" x="789.9" y="442.2">(<tspan font-weight="bold">b</tspan>)</text>
</svg>
</body></html>
